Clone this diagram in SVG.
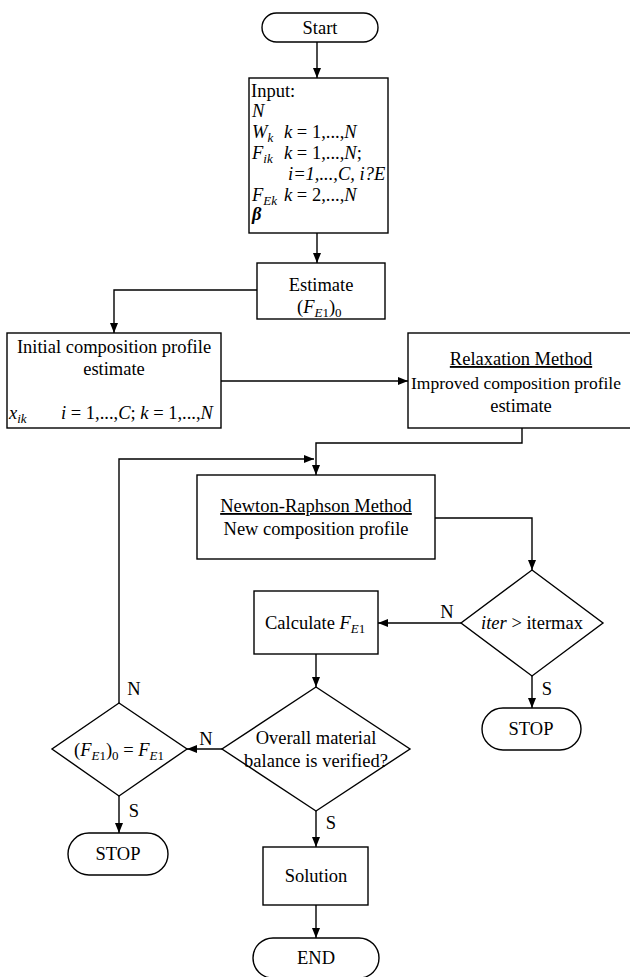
<svg xmlns="http://www.w3.org/2000/svg" width="630" height="977" viewBox="0 0 630 977">
<defs>
<marker id="ah" markerUnits="userSpaceOnUse" markerWidth="10" markerHeight="8" refX="10" refY="4" orient="auto">
<path d="M0,0 L10,4 L0,8 z" fill="#000"/>
</marker>
<style>
.b{fill:#fff;stroke:#000;stroke-width:1.4}
.t{font-family:"Liberation Serif","Times New Roman",serif;font-size:18.5px;fill:#000}
.c{text-anchor:middle}
.i{font-style:italic}
.s{font-size:13px}
.c1{fill:none;stroke:#000;stroke-width:1.4;marker-end:url(#ah)}
.u{text-decoration:underline}
</style>
</defs>
<rect width="630" height="977" fill="#fff"/>

<g id="connectors">
<path class="c1" d="M317,42 V78"/>
<path class="c1" d="M317,233 V263"/>
<path class="c1" d="M257,290 H114 V333"/>
<path class="c1" d="M221,381 H408"/>
<path class="c1" d="M522,428 V443 H316 V475"/>
<path class="c1" d="M435,518 H532 V570"/>
<path class="c1" d="M461,623 H378"/>
<path class="c1" d="M532,676 V708"/>
<path class="c1" d="M316,654 V687"/>
<path class="c1" d="M222,749 H187"/>
<path class="c1" d="M316,811 V847"/>
<path class="c1" d="M316,905 V938"/>
<path class="c1" d="M119,796 V833"/>
<path class="c1" d="M119,703 V459 H314"/>
<text class="t" x="447" y="618" text-anchor="middle">N</text>
<text class="t" x="547" y="695" text-anchor="middle">S</text>
<text class="t" x="206" y="745" text-anchor="middle">N</text>
<text class="t" x="134" y="695" text-anchor="middle">N</text>
<text class="t" x="134" y="817" text-anchor="middle">S</text>
<text class="t" x="331" y="829" text-anchor="middle">S</text>
</g>

<g id="start">
<rect class="b" x="262" y="13" width="116" height="29" rx="14.5"/>
<text class="t c" x="320" y="34">Start</text>
</g>

<g id="input">
<rect class="b" x="249" y="78" width="139" height="155"/>
<text class="t" x="251" y="97">Input:</text>
<text class="t i" x="252" y="117">N</text>
<text class="t i" x="252" y="138">W<tspan class="s" dy="4">k</tspan></text>
<text class="t" x="284" y="138"><tspan class="i">k</tspan> = 1,...,<tspan class="i">N</tspan></text>
<text class="t i" x="252" y="159">F<tspan class="s" dy="4">ik</tspan></text>
<text class="t" x="284" y="159"><tspan class="i">k</tspan> = 1,...,<tspan class="i">N</tspan>;</text>
<text class="t i" x="288" y="180">i=1,...,C, i?E</text>
<text class="t i" x="252" y="201">F<tspan class="s" dy="4">Ek</tspan></text>
<text class="t" x="284" y="201"><tspan class="i">k</tspan> = 2,...,<tspan class="i">N</tspan></text>
<text class="t i" x="252" y="220" font-weight="bold">β</text>
</g>

<g id="estimate">
<rect class="b" x="257" y="263" width="128" height="56"/>
<text class="t c" x="321" y="291">Estimate</text>
<text class="t" x="297" y="313">(<tspan class="i">F</tspan><tspan class="s i" dy="4">E</tspan><tspan class="s">1</tspan><tspan dy="-4">)</tspan><tspan class="s" dy="4">0</tspan></text>
</g>

<g id="initial">
<rect class="b" x="7" y="333" width="214" height="95"/>
<text class="t c" x="114" y="353">Initial composition profile</text>
<text class="t c" x="114" y="375">estimate</text>
<text class="t i" x="9" y="419">x<tspan class="s" dy="4">ik</tspan></text>
<text class="t" x="61" y="419"><tspan class="i">i</tspan> = 1,...,<tspan class="i">C</tspan>; <tspan class="i">k</tspan> = 1,...,<tspan class="i">N</tspan></text>
</g>

<g id="relaxation">
<rect class="b" x="408" y="333" width="240" height="95"/>
<text class="t c u" x="521" y="365">Relaxation Method</text>
<text class="t" x="411" y="389" style="font-size:17.5px">Improved composition profile</text>
<text class="t c" x="521" y="412">estimate</text>
</g>

<g id="newton">
<rect class="b" x="197" y="475" width="238" height="84"/>
<text class="t c u" x="316" y="512">Newton-Raphson Method</text>
<text class="t c" x="316" y="535">New composition profile</text>
</g>

<g id="iter">
<polygon class="b" points="532,570 603,623 532,676 461,623"/>
<text class="t c" x="532" y="629"><tspan class="i">iter</tspan> &gt; itermax</text>
</g>

<g id="stop-right">
<rect class="b" x="482" y="708" width="99" height="42" rx="21"/>
<text class="t c" x="531" y="735">STOP</text>
</g>

<g id="calculate">
<rect class="b" x="254" y="591" width="124" height="63"/>
<text class="t" x="265" y="629">Calculate <tspan class="i">F</tspan><tspan class="s i" dy="4">E</tspan><tspan class="s">1</tspan></text>
</g>

<g id="overall">
<polygon class="b" points="316,687 410,749 316,811 222,749"/>
<text class="t c" x="316" y="744">Overall material</text>
<text class="t c" x="316" y="767">balance is verified?</text>
</g>

<g id="compare">
<polygon class="b" points="119,703 187,749 119,796 52,749"/>
<text class="t" x="74" y="756">(<tspan class="i">F</tspan><tspan class="s i" dy="4">E</tspan><tspan class="s">1</tspan><tspan dy="-4">)</tspan><tspan class="s" dy="4">0</tspan><tspan dy="-4"> = </tspan><tspan class="i">F</tspan><tspan class="s i" dy="4">E</tspan><tspan class="s">1</tspan></text>
</g>

<g id="stop-left">
<rect class="b" x="68" y="833" width="100" height="42" rx="21"/>
<text class="t c" x="118" y="860">STOP</text>
</g>

<g id="solution">
<rect class="b" x="263" y="847" width="105" height="58"/>
<text class="t c" x="316" y="882">Solution</text>
</g>

<g id="end">
<rect class="b" x="253" y="938" width="126" height="40" rx="20"/>
<text class="t c" x="316" y="964">END</text>
</g>
</svg>
